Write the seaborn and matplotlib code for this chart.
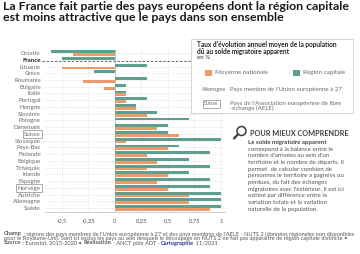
import matplotlib
matplotlib.use('Agg')
import matplotlib.pyplot as plt
import matplotlib.patches as mpatches
import pandas as pd
import seaborn as sns

# Data (annual rate, %)
pays = ['Croatie', 'France', 'Lituanie', 'Grèce', 'Roumanie', 'Bulgarie', 'Italie',
        'Portugal', 'Hongrie', 'Slovénie', 'Pologne', 'Danemark', 'Suisse', 'Slovaquie',
        'Pays-Bas', 'Finlande', 'Belgique', 'Tchéquie', 'Irlande', 'Espagne', 'Norvège',
        'Autriche', 'Allemagne', 'Suède']
region_capitale = [-0.6, -0.5, 0.3, -0.2, 0.3, 0.1, 0.1, 0.3, 0.2, 0.4, 0.7, 0.5, 0.5,
                   1.0, 0.6, 0.9, 0.7, 0.9, 0.7, 0.9, 0.9, 1.0, 1.0, 1.0]
moyenne_nationale = [-0.4, 0.0, -0.5, 0.0, -0.3, -0.1, 0.1, 0.1, 0.2, 0.3, 0.0, 0.4, 0.6,
                     0.1, 0.5, 0.3, 0.4, 0.3, 0.5, 0.4, 0.5, 0.7, 0.7, 0.9]
pays_aele = ['Suisse', 'Norvège']
xticks = [-0.5, -0.25, 0, 0.25, 0.5, 0.75, 1]
xticklabels = ['-0,5', '-0,25', '0', '0,25', '0,5', '0,75', '1']

TEAL = '#5e9f8f'
ORANGE = '#ec9a6a'
GREY = '#6b6b6b'

df = pd.DataFrame({
    'pays': pays * 2,
    'valeur': region_capitale + moyenne_nationale,
    'serie': ['Région capitale'] * len(pays) + ['Moyenne nationale'] * len(pays),
})

sns.set_style('white')
plt.rcParams['font.family'] = ['Lato', 'DejaVu Sans']

W, H = 360, 254
fig = plt.figure(figsize=(W / 100, H / 100), dpi=100)
fig.patch.set_facecolor('white')


def fx(x):
    return x / W


def fy(y):
    return 1 - y / H


ax = fig.add_axes([fx(45), fy(211.7), fx(225) - fx(45), fy(49) - fy(211.7)])
sns.barplot(data=df, x='valeur', y='pays', hue='serie',
            hue_order=['Région capitale', 'Moyenne nationale'],
            palette=[TEAL, ORANGE], orient='h', width=0.84, saturation=1,
            linewidth=0, legend=False, ax=ax, zorder=3)

ax.set_xlim(-0.66, 1.038)
ax.set_ylim(len(pays) - 0.45, -0.6)
ax.set_xlabel('')
ax.set_ylabel('')
ax.set_xticks(xticks)
ax.set_xticklabels(xticklabels)
ax.tick_params(axis='x', labelsize=4.2, colors='#555555', length=0, pad=5)
ax.tick_params(axis='y', labelsize=4.4, colors=GREY, length=0, pad=3)
ax.grid(True, axis='both', color='#dcdcdc', linestyle=(0, (2, 2)), linewidth=0.5)
ax.set_axisbelow(True)
for s in ['top', 'right', 'left']:
    ax.spines[s].set_visible(False)
ax.spines['bottom'].set_color('#c8c8c8')
ax.spines['bottom'].set_linewidth(0.6)
ax.axvline(0, color='#c0c0c0', linewidth=0.6, zorder=2)

for lab in ax.get_yticklabels():
    if lab.get_text() == 'France':
        lab.set_fontweight('bold')
        lab.set_color('#222222')
    if lab.get_text() in pays_aele:
        lab.set_bbox(dict(boxstyle='square,pad=0.25', fc='white', ec='#888888', lw=0.5))

# dashed separator under France
i_fr = pays.index('France')
ax.plot([-0.69, 0.735], [i_fr + 0.2, i_fr + 0.2], color='#555555', lw=0.6,
        linestyle=(0, (3, 2)), clip_on=False, zorder=4)

# title
fig.text(fx(3), fy(1.5), 'La France fait partie des pays européens dont la région capitale\n'
         'est moins attractive que le pays dans son ensemble',
         fontsize=8.9, fontweight='bold', color='#1a1a1a', va='top', ha='left',
         linespacing=0.98)

# legend box
box = mpatches.Rectangle((fx(191), fy(113)), fx(353) - fx(191), fy(39) - fy(113),
                         transform=fig.transFigure, fc='white', ec='#cfcfcf', lw=0.6,
                         zorder=5)
fig.add_artist(box)
head = fig.text(fx(197), fy(41.5), "Taux d'évolution annuel moyen de la population\n"
                "dû au solde migratoire apparent", fontsize=4.7, fontweight='bold',
                color='#222222', va='top', ha='left', linespacing=0.85, zorder=6)
fig.canvas.draw()
rend = fig.canvas.get_renderer()
hb = head.get_window_extent(renderer=rend)
fig.text(fx(197), (hb.y0 - 0.5) / H, 'en %', fontsize=4.4, color='#333333', va='top', zorder=6)
for x0, col, lab in [(205, ORANGE, 'Moyenne nationale'), (293, TEAL, 'Région capitale')]:
    fig.add_artist(mpatches.Rectangle((fx(x0), fy(76)), fx(7), fy(0) - fy(6.5),
                                      transform=fig.transFigure, fc=col, ec='none', zorder=6))
    fig.text(fx(x0 + 10), fy(72.5), lab, fontsize=4.5, color=GREY, va='center', zorder=6)
fig.text(fx(202), fy(89), 'Allemagne', fontsize=3.8, color=GREY, va='center', zorder=6)
fig.text(fx(230), fy(89), "Pays membre de l'Union européenne à 27", fontsize=4.45,
         color=GREY, va='center', zorder=6)
fig.text(fx(204), fy(104), 'Suisse', fontsize=3.8, color=GREY, va='center', zorder=6,
         bbox=dict(boxstyle='square,pad=0.25', fc='white', ec='#888888', lw=0.5))
fig.text(fx(230), fy(100.5), "Pays de l'Association européenne de libre\n-échange (AELE)",
         fontsize=4.45, color=GREY, va='top', linespacing=1.0, zorder=6)

# "pour mieux comprendre"
c = mpatches.Circle((241.5 / 100, (H - 131) / 100), 0.045, transform=fig.dpi_scale_trans,
                    fc='none', ec='#3a3a3a', lw=1.1)
fig.add_artist(c)
fig.add_artist(plt.Line2D([237.8 / 100, 234 / 100], [(H - 134.5) / 100, (H - 138.5) / 100],
                          transform=fig.dpi_scale_trans, color='#3a3a3a', lw=1.6))
fig.text(fx(250.5), fy(133.5), 'POUR MIEUX COMPRENDRE', fontsize=5.2, fontweight='bold',
         color='#3d3d3d', va='center')
fig.text(fx(248), fy(142.3), 'Le solde migratoire apparent', fontsize=4.4,
         fontweight='bold', color='#444444', va='center')
body = ['correspond à la balance entre le',
        "nombre d'arrivées au sein d'un",
        'territoire et le nombre de départs. Il',
        'permet  de calculer combien de',
        'personnes le territoire a gagnées ou',
        'perdues, du fait des échanges',
        "migratoires avec l'extérieur. Il est ici",
        'estimé par différence entre la',
        'variation totale et la variation',
        'naturelle de la population.']
for k, line in enumerate(body):
    fig.text(fx(248), fy(149 + 6.7 * k), line, fontsize=4.4, color='#555555', va='center')


# footer with mixed weights
def segments(x, y, segs):
    for txt, w, col in segs:
        t = fig.text(fx(x), fy(y), txt, fontsize=4.1, fontweight=w, color=col, va='center')
        bb = t.get_window_extent(renderer=rend)
        x += bb.width


FG = '#555555'
segments(4, 234, [('Champ', 'bold', FG),
                  (" : régions des pays membres de l'Union européenne à 27 et des pays membres "
                   "de l'AELE - NUTS 2 (données régionales non disponibles", 'normal', FG)])
segments(4, 238.5, [('pour le Royaume-Uni). Sont ici exclus les pays au sein desquels le découpage '
                     'en NUTS 2 ne fait pas apparaître de région capitale distincte •', 'normal', FG)])
segments(4, 243, [('Source', 'bold', FG), (' : Eurostat, 2015-2020 • ', 'normal', FG),
                  ('Réalisation', 'bold', FG), (' : ANCT pôle ADT - ', 'normal', FG),
                  ('Cartographie', 'bold', '#2b2f8f'), (' 11/2021', 'normal', FG)])

fig.savefig('out.png', dpi=100, facecolor='white')
